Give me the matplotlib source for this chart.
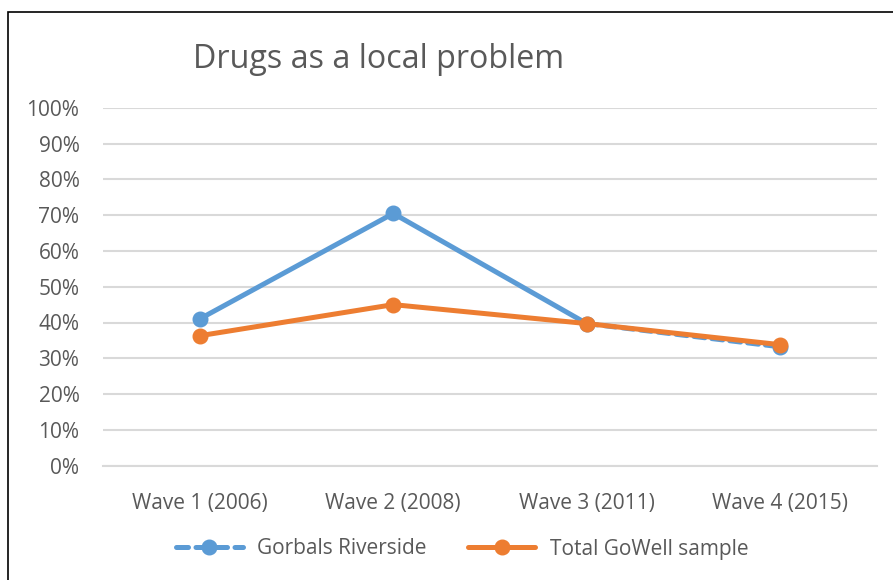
import matplotlib.pyplot as plt
from matplotlib.lines import Line2D
from matplotlib.patches import Rectangle
from matplotlib.ticker import PercentFormatter

# DATA
waves = ['Wave 1 (2006)', 'Wave 2 (2008)', 'Wave 3 (2011)', 'Wave 4 (2015)']
gorbals = [0.41, 0.705, 0.397, 0.332]
total_gowell = [0.363, 0.45, 0.397, 0.338]
y_ticks = [0.0, 0.1, 0.2, 0.3, 0.4, 0.5, 0.6, 0.7, 0.8, 0.9, 1.0]

blue = '#5B9BD5'
orange = '#ED7D31'
text_col = '#595959'

plt.rcParams['font.family'] = ['Open Sans', 'DejaVu Sans']

fig = plt.figure(figsize=(8.93, 5.80), dpi=100)
ax = fig.add_axes([103 / 893, 1 - 465.5 / 580, 774 / 893, 357.5 / 580])

x = list(range(len(waves)))

# blue series: solid for first three waves, dashed for the last step
ax.plot(x[:3], gorbals[:3], color=blue, lw=3.6, solid_capstyle='round', zorder=3)
ax.plot(x[2:], gorbals[2:], color=blue, lw=3.6, ls=(0, (2.2, 1.4)),
        dash_capstyle='round', zorder=3)
ax.plot(x, gorbals, ls='none', marker='o', ms=10.5, color=blue, zorder=4)

ax.plot(x, total_gowell, color=orange, lw=3.6, marker='o', ms=10.5,
        solid_capstyle='round', zorder=5)

ax.set_xlim(-0.5, len(waves) - 0.5)
ax.set_ylim(0, 1)
ax.set_yticks(y_ticks)
ax.yaxis.set_major_formatter(PercentFormatter(1.0, decimals=0))
ax.set_xticks(x)
ax.set_xticklabels(waves)
ax.grid(axis='y', color='#d9d9d9', lw=1.5)
ax.set_axisbelow(True)
for s in ['top', 'right', 'left']:
    ax.spines[s].set_visible(False)
ax.spines['bottom'].set_color('#d9d9d9')
ax.spines['bottom'].set_linewidth(1.5)
ax.tick_params(length=0, labelsize=15, colors=text_col)
ax.tick_params(axis='x', pad=20)
ax.tick_params(axis='y', pad=17)

fig.text(193 / 893, 1 - 60 / 580, 'Drugs as a local problem', fontsize=23.2,
         color=text_col, va='center', ha='left')

handles = [
    Line2D([], [], color=blue, lw=3.6, ls=(0, (2.4, 1.5)), marker='o', ms=10.5,
           dash_capstyle='round'),
    Line2D([], [], color=orange, lw=3.6, marker='o', ms=10.5, solid_capstyle='round'),
]
fig.legend(handles, ['Gorbals Riverside', 'Total GoWell sample'], ncol=2,
           loc='center', bbox_to_anchor=(462 / 893, 1 - 549 / 580), frameon=False,
           fontsize=15, labelcolor=text_col, handlelength=3.2, columnspacing=2.0,
           handletextpad=0.7)

# outer frame around the chart
fig.patches.append(Rectangle((7.5 / 893, -0.1), 1.2, 1 - 11.5 / 580 + 0.1,
                             transform=fig.transFigure, fill=False,
                             edgecolor='black', lw=1.2))

fig.savefig('out.png', dpi=100)
